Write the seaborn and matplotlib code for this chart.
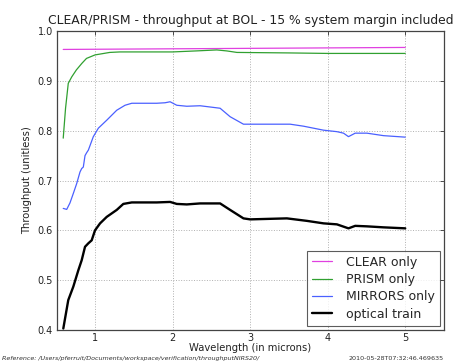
import matplotlib
matplotlib.use("Agg")
import matplotlib.pyplot as plt
import seaborn as sns
import pandas as pd

sns.set_style("white")
plt.rcParams['font.family'] = ['DejaVu Sans']

# Throughput curves (wavelength in microns, throughput unitless)
clear_wave = [0.59, 5.0]
clear_thr = [0.963, 0.967]

prism_wave = [0.59, 0.62, 0.655, 0.70, 0.76, 0.83, 0.89, 1.0, 1.19, 1.32, 2.0, 2.3,
              2.57, 2.7, 2.83, 3.5, 4.0, 5.0]
prism_thr = [0.785, 0.845, 0.895, 0.908, 0.922, 0.935, 0.945, 0.952, 0.957, 0.958,
             0.958, 0.960, 0.962, 0.960, 0.957, 0.956, 0.955, 0.955]

mirrors_wave = [0.59, 0.635, 0.677, 0.72, 0.764, 0.806, 0.828, 0.849, 0.871, 0.893,
                0.914, 0.978, 1.043, 1.151, 1.28, 1.387, 1.474, 1.796, 1.903, 1.968,
                2.054, 2.183, 2.355, 2.613, 2.742, 2.914, 3.215, 3.516, 3.688, 3.946,
                4.119, 4.204, 4.268, 4.355, 4.506, 4.72, 5.0]
mirrors_thr = [0.644, 0.642, 0.655, 0.674, 0.694, 0.717, 0.724, 0.727, 0.750, 0.756,
               0.761, 0.788, 0.805, 0.821, 0.841, 0.851, 0.855, 0.855, 0.856, 0.858,
               0.851, 0.849, 0.850, 0.845, 0.828, 0.813, 0.813, 0.813, 0.809, 0.801,
               0.798, 0.795, 0.788, 0.795, 0.795, 0.790, 0.787]

optical_wave = [0.591, 0.655, 0.720, 0.785, 0.828, 0.871, 0.914, 0.957, 1.0, 1.065,
                1.151, 1.28, 1.365, 1.474, 1.796, 1.968, 2.054, 2.183, 2.355, 2.613,
                2.742, 2.914, 3.0, 3.474, 3.732, 3.946, 4.119, 4.268, 4.355, 4.506,
                4.72, 5.0]
optical_thr = [0.403, 0.460, 0.487, 0.520, 0.540, 0.567, 0.574, 0.580, 0.600, 0.614,
               0.627, 0.641, 0.653, 0.656, 0.656, 0.657, 0.653, 0.652, 0.654, 0.654,
               0.641, 0.624, 0.622, 0.624, 0.619, 0.614, 0.612, 0.604, 0.609, 0.608,
               0.606, 0.604]

series = [
    ("CLEAR only", clear_wave, clear_thr, "#e040e0", 0.9),
    ("PRISM only", prism_wave, prism_thr, "#30a030", 0.9),
    ("MIRRORS only", mirrors_wave, mirrors_thr, "#4a60ff", 0.9),
    ("optical train", optical_wave, optical_thr, "black", 1.7),
]

x_ticks = [1, 2, 3, 4, 5]
y_ticks = [0.4, 0.5, 0.6, 0.7, 0.8, 0.9, 1.0]

fig = plt.figure(figsize=(4.54, 3.63), dpi=100)
ax = fig.add_axes([0.1256, 0.0909, 0.8524, 0.8237])

for name, w, t, c, lw in series:
    df = pd.DataFrame({"wave": w, "thr": t})
    sns.lineplot(data=df, x="wave", y="thr", ax=ax, color=c, linewidth=lw,
                 label=name, sort=False)

ax.set_xlim(0.51, 5.5)
ax.set_ylim(0.4, 1.0)
ax.set_xticks(x_ticks)
ax.set_yticks(y_ticks)
ax.set_xticklabels([str(v) for v in x_ticks])
ax.set_yticklabels([f"{v:.1f}" for v in y_ticks])
ax.tick_params(direction="in", top=True, right=True, labelsize=7, length=3,
               width=0.6, color="#333333", pad=3, labelcolor="#222222")
ax.tick_params(axis="x", pad=2)
ax.grid(True, linestyle=":", color="#b0b0b0", linewidth=0.7)
for s in ax.spines.values():
    s.set_color("#444444")
    s.set_linewidth(0.9)

ax.set_xlabel("Wavelength (in microns)", fontsize=7.2, labelpad=0.5, color="#222222")
ax.set_ylabel("Throughput (unitless)", fontsize=7.2, labelpad=4, color="#222222")
ax.set_title("CLEAR/PRISM - throughput at BOL - 15 % system margin included",
             fontsize=8.9, pad=5, color="#222222")

leg = ax.legend(loc="lower right", fontsize=9, frameon=True, fancybox=False,
                edgecolor="#333333", borderpad=0.4, labelspacing=0.35,
                handlelength=1.6, handletextpad=1.1, borderaxespad=0.35)
leg.get_frame().set_linewidth(0.8)

fig.text(0.005, 0.006, "Reference: /Users/pferruit/Documents/workspace/verification/throughputNIRS20/",
         fontsize=4.6, style="italic", color="#333333", ha="left", va="bottom")
fig.text(0.977, 0.006, "2010-05-28T07:32:46.469635", fontsize=4.6,
         color="#333333", ha="right", va="bottom")

fig.savefig("out.png", dpi=100)
